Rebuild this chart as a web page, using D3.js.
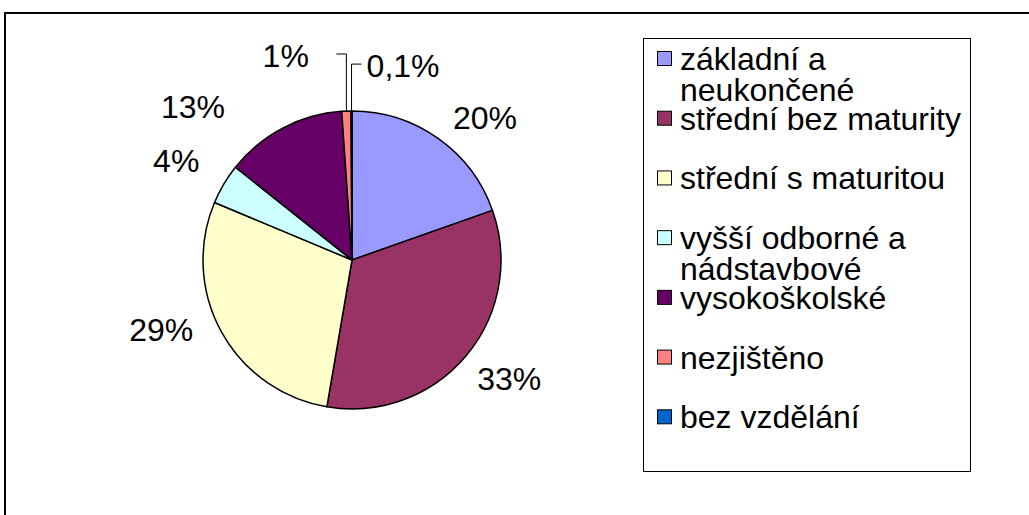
<!DOCTYPE html>
<html>
<head>
<meta charset="utf-8">
<script src="https://cdn.jsdelivr.net/npm/d3@7"></script>
<style>
  html, body { margin: 0; padding: 0; background: #fff; }
  svg { display: block; }
  text { font-family: "Liberation Sans", Arial, sans-serif; font-size: 32px; fill: #000; }
</style>
</head>
<body>
<svg id="chart"></svg>
<script>
const SVG_WIDTH = 1029;
const SVG_HEIGHT = 515;

// Data (shares in %)
const categories = [
  "základní a neukončené",
  "střední bez maturity",
  "střední s maturitou",
  "vyšší odborné a nádstavbové",
  "vysokoškolské",
  "nezjištěno",
  "bez vzdělání"
];
const shares = [19.6, 33.1, 28.6, 4.4, 13.2, 1.0, 0.1];
const colors = ["#9999FF", "#993366", "#FFFFCC", "#CCFFFF", "#660066", "#FF8080", "#0066CC"];

// Label placement tweaks (degrees off the slice middle, distance from centre)
const labelShift = [7.7, -3.1, 8.8, -1.1, -18.3, -15.8, 14.9];
const labelDist = [195, 197, 203, 202, 221, 215, 201];
const withLeader = [false, false, false, false, false, true, true];

const CX = 352, CY = 260, R = 149;

const svg = d3.select('#chart')
  .attr('width', SVG_WIDTH)
  .attr('height', SVG_HEIGHT)
  .attr('viewBox', `0 0 ${SVG_WIDTH} ${SVG_HEIGHT}`);

// chart area frame, runs off the right and bottom edge
svg.append('rect')
  .attr('x', 5)
  .attr('y', 13)
  .attr('width', 1200)
  .attr('height', 700)
  .attr('fill', 'none')
  .attr('stroke', '#000')
  .attr('stroke-width', 2);

const color = d3.scaleOrdinal().domain(categories).range(colors);

const pie = d3.pie().sort(null).value(d => d.value);
const arcs = pie(categories.map((c, i) => ({name: c, value: shares[i], i: i})));
const arc = d3.arc().innerRadius(0).outerRadius(R);

const pieG = svg.append('g').attr('transform', `translate(${CX},${CY})`);

pieG.selectAll('path')
  .data(arcs)
  .enter()
  .append('path')
  .attr('d', arc)
  .attr('fill', d => color(d.data.name))
  .attr('stroke', '#000')
  .attr('stroke-width', 1.5)
  .attr('stroke-linejoin', 'round');

function polar(angle, r) {
  return [r * Math.sin(angle), -r * Math.cos(angle)];
}

function fmt(v) {
  if (v < 0.5) return String(v).replace('.', ',') + '%';
  return Math.round(v) + '%';
}

const rad = Math.PI / 180;

arcs.forEach(d => {
  const i = d.data.i;
  const mid = (d.startAngle + d.endAngle) / 2;
  const p = polar(mid + labelShift[i] * rad, labelDist[i]);

  pieG.append('text')
    .attr('x', p[0])
    .attr('y', p[1] + 11.5)
    .attr('text-anchor', 'middle')
    .text(fmt(d.data.value));

  if (withLeader[i]) {
    const s = polar(mid, R);
    const ey = p[1] - 1.5;
    const dir = p[0] < s[0] ? -1 : 1;
    pieG.append('path')
      .attr('d', d3.line()([s, [s[0], ey], [s[0] + dir * 10, ey]]))
      .attr('fill', 'none')
      .attr('stroke', '#000')
      .attr('stroke-width', 1);
  }
});

// legend
const LEG_X = 643, LEG_Y = 38, LEG_W = 327, LEG_H = 433;
const legend = svg.append('g');

legend.append('rect')
  .attr('x', LEG_X + 0.5)
  .attr('y', LEG_Y + 0.5)
  .attr('width', LEG_W)
  .attr('height', LEG_H)
  .attr('fill', '#fff')
  .attr('stroke', '#000')
  .attr('stroke-width', 1);

const rowY = d3.scaleLinear().domain([0, categories.length - 1]).range([70, 428.3]);
const MAX_TEXT = 290;

categories.forEach((name, i) => {
  const base = rowY(i);
  legend.append('rect')
    .attr('x', 657.5)
    .attr('y', base - 18.5)
    .attr('width', 14)
    .attr('height', 14)
    .attr('fill', color(name))
    .attr('stroke', '#000')
    .attr('stroke-width', 1);

  const t = legend.append('text')
    .attr('x', 680)
    .attr('y', base);

  // simple word wrap
  const words = name.split(' ');
  let line = [];
  let lineNo = 0;
  let tspan = t.append('tspan').attr('x', 680).attr('y', base);
  words.forEach(w => {
    line.push(w);
    tspan.text(line.join(' '));
    if (tspan.node().getComputedTextLength() > MAX_TEXT && line.length > 1) {
      line.pop();
      tspan.text(line.join(' '));
      line = [w];
      lineNo++;
      tspan = t.append('tspan').attr('x', 680).attr('y', base + lineNo * 31).text(w);
    }
  });
});
</script>
</body>
</html>
